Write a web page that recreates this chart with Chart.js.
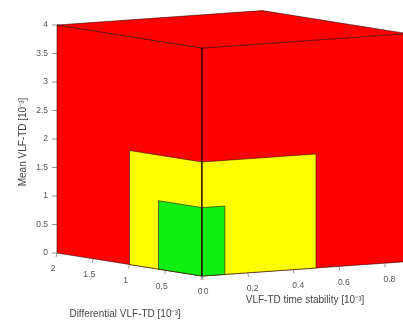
<!DOCTYPE html>
<html><head><meta charset="utf-8">
<script src="https://cdn.jsdelivr.net/npm/chart.js@4/dist/chart.umd.min.js"></script>
<style>html,body{margin:0;padding:0;background:#fff}#wrap{width:403px;height:322px;position:relative}</style>
</head><body><div id="wrap"><canvas id="c"></canvas></div>
<script>
// Nested classification regions (outer red, middle yellow, inner green)
const boxNames = ['red', 'yellow', 'green'];
const boxDifferential = [2, 1, 0.6];      // Differential VLF-TD [10^-3]
const boxStability = [0.9, 0.5, 0.1];     // VLF-TD time stability [10^-3]
const boxMean = [4, 2, 1.2];              // Mean VLF-TD [10^-3]
const boxColors = ['#ff0000', '#ffff00', '#11ee11'];

const meanTicks = [0, 0.5, 1, 1.5, 2, 2.5, 3, 3.5, 4];
const meanTickLabels = ['0', '0.5', '1', '1.5', '2', '2.5', '3', '3.5', '4'];
const diffTicks = [0, 0.5, 1, 1.5, 2];
const diffTickLabels = ['0', '0.5', '1', '1.5', '2'];
const stabTicks = [0, 0.2, 0.4, 0.6, 0.8];
const stabTickLabels = ['0', '0.2', '0.4', '0.6', '0.8'];

// oblique view: how one unit of each data axis maps to view units
const VIEW = {u0: 202, v0: 276, du: -72.5, dv: -11.5, su: 228, sv: -16, mv: -57};
function project(d, s, m) {
  return {x: VIEW.u0 + VIEW.du * d + VIEW.su * s, y: VIEW.v0 + VIEW.dv * d + VIEW.sv * s + VIEW.mv * m};
}
function poly(pts) {
  const out = pts.map(p => project(p[0], p[1], p[2]));
  out.push(out[0]);
  return out;
}

const datasets = [];
boxNames.forEach((name, i) => {
  const D = boxDifferential[i], S = boxStability[i], M = boxMean[i];
  const faces = [
    [[0, 0, 0], [D, 0, 0], [D, 0, M], [0, 0, M]],   // front-left face
    [[0, 0, 0], [0, S, 0], [0, S, M], [0, 0, M]]    // front-right face
  ];
  if (i === 0) faces.push([[0, 0, M], [D, 0, M], [D, S, M], [0, S, M]]); // top
  faces.forEach(f => {
    datasets.push({
      label: name,
      data: poly(f),
      backgroundColor: boxColors[i],
      borderColor: 'rgba(40,0,0,0.7)',
      borderWidth: 0.8,
      pointRadius: 0,
      tension: 0,
      fill: 'shape'
    });
  });
});
datasets.forEach((ds, k) => { ds.order = 100 - k; });

const axesPlugin = {
  id: 'axes3d',
  afterDatasetsDraw(chart) {
    const ctx = chart.ctx, xs = chart.scales.x, ys = chart.scales.y;
    const px = (d, s, m) => { const p = project(d, s, m); return [xs.getPixelForValue(p.x), ys.getPixelForValue(p.y)]; };
    ctx.save();
    ctx.strokeStyle = '#666';
    ctx.lineWidth = 0.7;
    ctx.fillStyle = '#555';
    ctx.font = '8.5px "Liberation Sans", Arial, sans-serif';
    // mean axis at far-left corner
    ctx.textAlign = 'right'; ctx.textBaseline = 'middle';
    meanTicks.forEach((t, i) => {
      const [x, y] = px(boxDifferential[0], 0, t);
      ctx.beginPath(); ctx.moveTo(x - 5, y); ctx.lineTo(x, y); ctx.stroke();
      ctx.fillText(meanTickLabels[i], x - 9, y);
    });
    ctx.textAlign = 'center'; ctx.textBaseline = 'middle';
    diffTicks.forEach((t, i) => {
      const [x, y] = px(t, 0, 0);
      ctx.beginPath(); ctx.moveTo(x, y); ctx.lineTo(x - 1, y + 4); ctx.stroke();
      ctx.fillText(diffTickLabels[i], t === 0 ? x - 2 : x - 4, y + 16);
    });
    stabTicks.forEach((t, i) => {
      const [x, y] = px(0, t, 0);
      ctx.beginPath(); ctx.moveTo(x, y); ctx.lineTo(x + 1, y + 4); ctx.stroke();
      ctx.fillText(stabTickLabels[i], t === 0 ? x + 4 : x + 5, y + 16);
    });
    // axis titles
    ctx.fillStyle = '#444';
    ctx.font = '10px "Liberation Sans", Arial, sans-serif';
    ctx.fillText('Differential VLF-TD [10⁻³]', 125, 314);
    ctx.fillText('VLF-TD time stability [10⁻³]', 305, 300);
    ctx.translate(23, 142);
    ctx.rotate(-Math.PI / 2);
    ctx.fillText('Mean VLF-TD [10⁻³]', 0, 0);
    ctx.restore();
  }
};

new Chart(document.getElementById('c'), {
  type: 'line',
  data: {datasets},
  options: {
    responsive: true,
    maintainAspectRatio: false,
    animation: false,
    layout: {padding: 0},
    plugins: {legend: {display: false}, tooltip: {enabled: false}, title: {display: false}},
    scales: {
      x: {type: 'linear', min: 0, max: 403, display: false},
      y: {type: 'linear', min: 0, max: 322, reverse: true, display: false}
    }
  },
  plugins: [axesPlugin]
});
</script>
</body></html>
